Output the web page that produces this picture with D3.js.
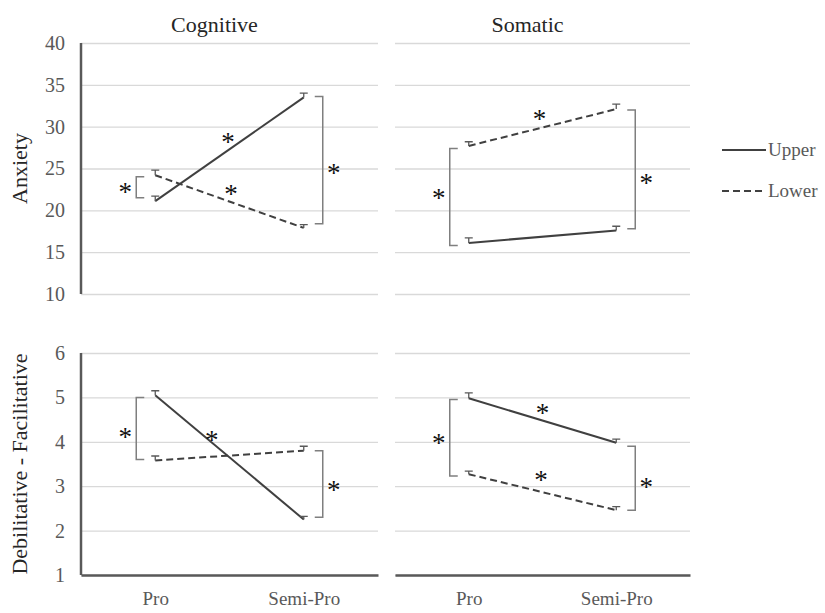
<!DOCTYPE html>
<html>
<head>
<meta charset="utf-8">
<script src="https://cdn.jsdelivr.net/npm/d3@7"></script>
<style>
  body { margin: 0; background: #fff; }
  svg text { font-family: "Liberation Serif", "Times New Roman", "DejaVu Serif", serif; }
</style>
</head>
<body>
<svg width="825" height="613"></svg>
<script>
// categories and labels
const categories = ['Pro', 'Semi-Pro'];
const panelTitles = ['Cognitive', 'Somatic'];
const rowLabels = ['Anxiety', 'Debilitative - Facilitative'];
const seriesNames = ['Upper', 'Lower'];
const anxietyTicks = [10, 15, 20, 25, 30, 35, 40];
const dirTicks = [1, 2, 3, 4, 5, 6];

// means (Pro, Semi-Pro) and error bar sizes
const cogAnxUpper = [21.1, 33.5];
const cogAnxUpperErr = [0.6, 0.5];
const cogAnxLower = [24.2, 17.9];
const cogAnxLowerErr = [0.6, 0.4];

const somAnxUpper = [16.1, 17.6];
const somAnxUpperErr = [0.6, 0.5];
const somAnxLower = [27.7, 32.1];
const somAnxLowerErr = [0.5, 0.6];

const cogDirUpper = [5.05, 2.25];
const cogDirUpperErr = [0.1, 0.07];
const cogDirLower = [3.58, 3.8];
const cogDirLowerErr = [0.1, 0.1];

const somDirUpper = [4.98, 3.98];
const somDirUpperErr = [0.12, 0.08];
const somDirLower = [3.27, 2.46];
const somDirLowerErr = [0.07, 0.08];

// significance brackets: [category, top, bottom, asterisk value]
const cogAnxBrackets = [['Pro', 24.0, 21.5, 22.7], ['Semi-Pro', 33.6, 18.4, 25.0]];
const somAnxBrackets = [['Pro', 27.4, 15.8, 22.0], ['Semi-Pro', 32.0, 17.8, 23.8]];
const cogDirBrackets = [['Pro', 5.0, 3.6, 4.2], ['Semi-Pro', 3.8, 2.3, 3.0]];
const somDirBrackets = [['Pro', 4.95, 3.23, 4.06], ['Semi-Pro', 3.9, 2.46, 3.07]];

// asterisks along the lines: [share of the way Pro -> Semi-Pro, value]
const cogAnxLineStars = [[0.49, 28.7], [0.51, 22.4]];
const somAnxLineStars = [[0.48, 31.4]];
const cogDirLineStars = [[0.38, 4.13]];
const somDirLineStars = [[0.5, 4.74], [0.49, 3.24]];

const svg = d3.select('svg');
const colRanges = [[81, 378], [395, 690]];
const rowRanges = [[294, 43], [575, 353]];
const dark = '#404040';
const grey = '#595959';
const serif = '"Liberation Serif", "Times New Roman", "DejaVu Serif", serif';

const panels = [
  { row: 0, col: 0, upper: cogAnxUpper, upperErr: cogAnxUpperErr, lower: cogAnxLower, lowerErr: cogAnxLowerErr, brackets: cogAnxBrackets, stars: cogAnxLineStars },
  { row: 0, col: 1, upper: somAnxUpper, upperErr: somAnxUpperErr, lower: somAnxLower, lowerErr: somAnxLowerErr, brackets: somAnxBrackets, stars: somAnxLineStars },
  { row: 1, col: 0, upper: cogDirUpper, upperErr: cogDirUpperErr, lower: cogDirLower, lowerErr: cogDirLowerErr, brackets: cogDirBrackets, stars: cogDirLineStars },
  { row: 1, col: 1, upper: somDirUpper, upperErr: somDirUpperErr, lower: somDirLower, lowerErr: somDirLowerErr, brackets: somDirBrackets, stars: somDirLineStars }
];

function star(g, x, y) {
  g.append('text')
    .attr('x', x)
    .attr('y', y + 13)
    .attr('text-anchor', 'middle')
    .attr('font-size', '27px')
    .attr('font-family', serif)
    .attr('fill', '#111')
    .text('*');
}

panels.forEach(p => {
  const [x0, x1] = colRanges[p.col];
  const ticks = p.row === 0 ? anxietyTicks : dirTicks;
  const x = d3.scalePoint().domain(categories).range([x0, x1]).padding(0.5);
  const y = d3.scaleLinear().domain(d3.extent(ticks)).range(rowRanges[p.row]);
  const g = svg.append('g');

  // gridlines
  g.append('g')
    .attr('transform', `translate(${x0}, 0)`)
    .call(d3.axisLeft(y).tickValues(ticks).tickSize(-(x1 - x0)).tickFormat(''))
    .call(a => a.select('.domain').remove())
    .call(a => a.selectAll('line').attr('stroke', '#d9d9d9').attr('stroke-width', 1.3));

  if (p.col === 0) {
    g.append('g')
      .attr('transform', `translate(${x0}, 0)`)
      .call(d3.axisLeft(y).tickValues(ticks).tickFormat(d3.format('d')).tickSize(0).tickPadding(16))
      .attr('font-family', serif)
      .call(a => a.select('.domain').remove())
      .call(a => a.selectAll('text')
        .attr('fill', grey)
        .attr('font-size', '20px'));
    g.append('line')
      .attr('x1', x0).attr('x2', x0)
      .attr('y1', y(ticks[ticks.length - 1])).attr('y2', y(ticks[0]))
      .attr('stroke', grey).attr('stroke-width', 2.5);
  }

  if (p.row === 1) {
    g.append('g')
      .attr('transform', `translate(0, ${y(ticks[0])})`)
      .call(d3.axisBottom(x).tickSize(0).tickPadding(17))
      .attr('font-family', serif)
      .call(a => a.select('.domain').attr('stroke', grey).attr('stroke-width', 2.5))
      .call(a => a.selectAll('text')
        .attr('fill', grey)
        .attr('font-size', '19px'));
  } else {
    svg.append('text')
      .attr('x', (x0 + x1) / 2 - 15)
      .attr('y', 32)
      .attr('text-anchor', 'middle')
      .attr('font-size', '22px')
      .attr('font-family', serif)
      .attr('fill', '#262626')
      .text(panelTitles[p.col]);
  }

  // brackets
  p.brackets.forEach(([cat, top, bottom, sv]) => {
    const side = cat === categories[0] ? -1 : 1;
    const bx = x(cat) + side * 19;
    const tip = bx - side * 8;
    g.append('path')
      .attr('d', `M${tip},${y(top)}H${bx}V${y(bottom)}H${tip}`)
      .attr('fill', 'none')
      .attr('stroke', '#7f7f7f')
      .attr('stroke-width', 1.5);
    star(g, x(cat) + side * 30, y(sv));
  });

  // series lines with error bars
  const series = [
    { vals: p.upper, err: p.upperErr, dash: null },
    { vals: p.lower, err: p.lowerErr, dash: '7,4' }
  ];
  series.forEach(s => {
    const pts = categories.map((c, i) => [x(c), y(s.vals[i])]);
    g.append('path')
      .attr('d', d3.line()(pts))
      .attr('fill', 'none')
      .attr('stroke', dark)
      .attr('stroke-width', 2)
      .attr('stroke-dasharray', s.dash);
    categories.forEach((c, i) => {
      const yt = y(s.vals[i] + s.err[i]);
      g.append('path')
        .attr('d', `M${x(c)},${y(s.vals[i])}V${yt}M${x(c) - 4},${yt}H${x(c) + 4}`)
        .attr('fill', 'none')
        .attr('stroke', grey)
        .attr('stroke-width', 1.3);
    });
  });

  p.stars.forEach(([t, v]) => {
    const sx = x(categories[0]) + t * (x(categories[1]) - x(categories[0]));
    star(g, sx, y(v));
  });
});

// row labels
rowLabels.forEach((label, i) => {
  const r = rowRanges[i];
  svg.append('text')
    .attr('transform', `translate(27, ${(r[0] + r[1]) / 2}) rotate(-90)`)
    .attr('text-anchor', 'middle')
    .attr('font-size', '22px')
    .attr('font-family', serif)
    .attr('fill', '#262626')
    .text(label);
});

// legend
const legend = svg.append('g').attr('transform', 'translate(722, 150)');
seriesNames.forEach((name, i) => {
  const row = legend.append('g').attr('transform', `translate(0, ${i * 41})`);
  row.append('line')
    .attr('x1', 0).attr('x2', 44)
    .attr('stroke', dark)
    .attr('stroke-width', 2)
    .attr('stroke-dasharray', i === 0 ? null : '7,4');
  row.append('text')
    .attr('x', 46)
    .attr('y', 6)
    .attr('font-size', '19px')
    .attr('font-family', serif)
    .attr('fill', grey)
    .text(name);
});
</script>
</body>
</html>
